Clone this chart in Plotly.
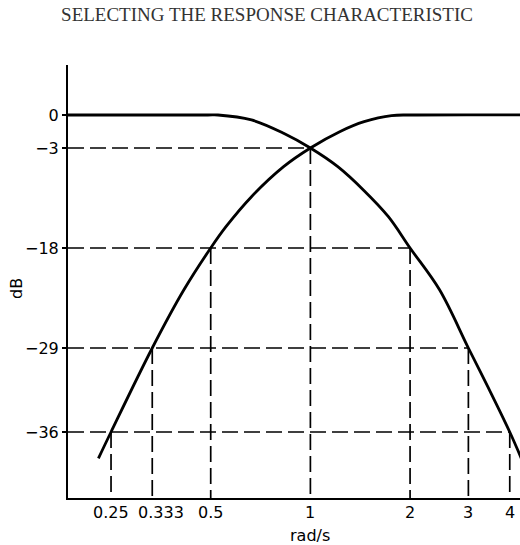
import numpy as np
import plotly.graph_objects as go

freq_marks = [0.25, 0.333, 0.5, 1, 2, 3, 4]
db_marks = [-36, -29, -18, -3, -18, -29, -36]
freq_labels = ["0.25", "0.333", "0.5", "1", "2", "3", "4"]

# Attenuation levels labelled on the vertical axis
db_ticks = [0, -3, -18, -29, -36]
db_tick_labels = ["0", "\u22123", "\u221218", "\u221229", "\u221236"]

# Rising response (high-pass side)
rise_freq = [0.229, 0.25, 0.333, 0.415, 0.5, 0.556, 0.664, 0.830, 1, 1.226, 1.453, 1.758, 2.05, 6.0]
rise_db = [-38.2, -36, -29, -22.6, -18, -14.8, -10.3, -5.8, -3, -1.52, -0.61, -0.05, 0, 0]

# Falling response (low-pass side)
fall_freq = [0.15, 0.49, 0.526, 0.664, 0.830, 1, 1.21, 1.453, 1.72, 2, 2.455, 3, 3.43, 4, 4.42]
fall_db = [0, 0, 0, -0.45, -1.66, -3, -5.8, -9.4, -13.3, -18, -22.6, -29, -32.2, -36, -38.75]

# The dB axis is drawn as a schematic (non-uniform) scale: piecewise-linear knots
DB_KNOTS = [-40, -36, -29, -18, -3, 0]
AXIS_KNOTS = [18, 66, 150, 250, 350, 383]


def level(db):
    return np.interp(db, DB_KNOTS, AXIS_KNOTS)


X_RANGE = [-0.732, 0.633]      # log10 rad/s
Y_RANGE = [0, 433]
f_left = 10 ** X_RANGE[0]

INK = "#000000"
FONT = "DejaVu Sans"

fig = go.Figure()

# Dashed reference lines: horizontal from the axis to the farthest marked point,
# vertical from each marked point down to the frequency axis
dx, dy = [], []
for d in sorted(set(db_marks)):
    fmax = max(f for f, v in zip(freq_marks, db_marks) if v == d)
    dx += [f_left, fmax, None]
    dy += [level(d), level(d), None]
for f, d in zip(freq_marks, db_marks):
    dx += [f, f, None]
    dy += [level(d), Y_RANGE[0], None]

fig.add_trace(go.Scatter(
    x=dx, y=dy, mode="lines",
    line=dict(color=INK, width=1.7, dash="16px,6px"),
    hoverinfo="skip", showlegend=False,
))

for fx, fy in ((rise_freq, rise_db), (fall_freq, fall_db)):
    fig.add_trace(go.Scatter(
        x=fx, y=level(fy), mode="lines",
        line=dict(color=INK, width=2.8, shape="spline", smoothing=1.0),
        hoverinfo="skip", showlegend=False,
    ))

annotations = []
for f, lab in zip(freq_marks, freq_labels):
    annotations.append(dict(
        x=np.log10(f), xref="x", y=0, yref="paper",
        text=lab, showarrow=False, yanchor="middle", xanchor="center",
        yshift=-14, xshift=9 if lab == "0.333" else 0,
        font=dict(family=FONT, size=16, color=INK),
    ))

annotations.append(dict(
    x=0, xref="x", y=0, yref="paper", text="rad/s", showarrow=False,
    yanchor="middle", xanchor="center", yshift=-37,
    font=dict(family=FONT, size=16, color=INK),
))
annotations.append(dict(
    x=0, xref="paper", y=(498 - 289) / 433, yref="paper", text="dB",
    showarrow=False, textangle=-90, xanchor="center", yanchor="middle",
    xshift=-52, font=dict(family=FONT, size=16, color=INK),
))

fig.update_layout(
    width=520, height=545,
    margin=dict(l=68, r=0, t=65, b=47),
    paper_bgcolor="white", plot_bgcolor="white",
    title=dict(
        text="SELECTING THE RESPONSE CHARACTERISTIC",
        x=267 / 520, xref="container", xanchor="center",
        y=1 - 14 / 545, yref="container", yanchor="middle",
        font=dict(family="Liberation Serif", size=19, color="#333333"),
    ),
    annotations=annotations,
    xaxis=dict(
        type="log", range=X_RANGE, showgrid=False, zeroline=False,
        showline=True, linecolor=INK, linewidth=2,
        ticks="", showticklabels=False,
    ),
    yaxis=dict(
        range=Y_RANGE, showgrid=False, zeroline=False,
        showline=True, linecolor=INK, linewidth=2,
        tickvals=[float(level(d)) for d in db_ticks], ticktext=db_tick_labels,
        ticks="outside", ticklen=4, tickwidth=1.5, tickcolor=INK,
        tickfont=dict(family=FONT, size=16, color=INK),
    ),
)

fig.write_html("out.html")
